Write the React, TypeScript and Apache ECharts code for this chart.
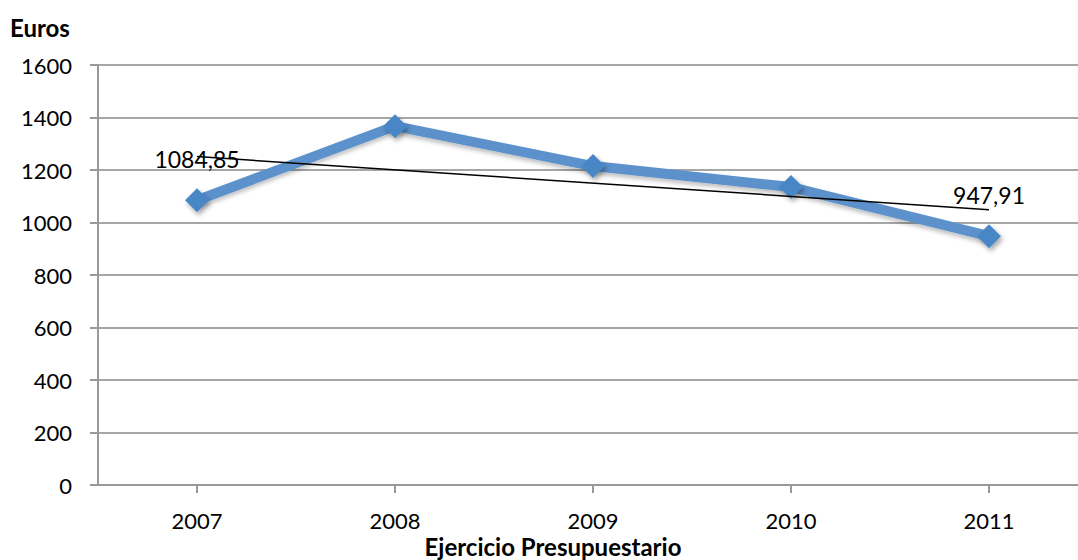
import React, { useEffect, useRef } from "react";
import * as echarts from "echarts";

// Annual amounts per budget year
const years = ["2007", "2008", "2009", "2010", "2011"];
const euros = [1084.85, 1367, 1215, 1135, 947.91];
// Linear trend endpoints (first and last year)
const trendValues = [1251, 1049];
// Years whose value is labelled
const labelledYears = ["2007", "2011"];

const FONT = "Lato, 'Open Sans', sans-serif";

export default function App() {
  const ref = useRef<HTMLDivElement>(null);

  useEffect(() => {
    if (!ref.current) return;
    const chart = echarts.init(ref.current, undefined, { renderer: "svg" });

    const mainData = euros.map((v, i) => {
      const show = labelledYears.includes(years[i]);
      return {
        value: v,
        label: {
          show,
          position: "top",
          distance: 18,
          formatter: () => v.toFixed(2).replace(".", ","),
          color: "#000",
          fontSize: 23,
          fontFamily: FONT,
        },
      };
    });

    chart.setOption({
      animation: false,
      backgroundColor: "#fff",
      textStyle: { fontFamily: FONT },
      grid: {
        left: 98,
        right: -10,
        top: 65,
        bottom: 75,
        containLabel: false,
        outerBoundsMode: "none",
      },
      title: [
        {
          text: "Euros",
          left: 5,
          top: 10,
          textStyle: { fontSize: 24, fontWeight: "bold", color: "#000", fontFamily: FONT },
        },
      ],
      graphic: [
        {
          type: "text",
          x: 553,
          y: 534,
          style: {
            text: "Ejercicio Presupuestario",
            fontSize: 24,
            fontWeight: "bold",
            fill: "#000",
            fontFamily: FONT,
            align: "center",
            verticalAlign: "top",
          },
        },
      ],
      xAxis: {
        type: "category",
        data: years,
        boundaryGap: true,
        axisLine: { lineStyle: { color: "#999", width: 2 } },
        axisTick: { show: true, alignWithLabel: true, length: 8, lineStyle: { color: "#999", width: 2 } },
        axisLabel: { fontSize: 22, color: "#000", margin: 24, fontFamily: FONT },
      },
      yAxis: {
        type: "value",
        min: 0,
        max: 1600,
        interval: 200,
        axisLine: { show: true, lineStyle: { color: "#999", width: 2 } },
        axisTick: { show: true, length: 8, inside: false, lineStyle: { color: "#999", width: 2 } },
        axisLabel: {
          fontSize: 22,
          color: "#000",
          margin: 26,
          fontFamily: FONT,
          formatter: (v: number) => String(v),
        },
        splitLine: { lineStyle: { color: "#a6a6a6", width: 2 } },
      },
      series: [
        {
          type: "line",
          data: mainData,
          symbol: "diamond",
          symbolSize: 24,
          itemStyle: {
            color: "#4a86c6",
            shadowColor: "rgba(0,0,0,0.35)",
            shadowBlur: 5,
            shadowOffsetX: 2,
            shadowOffsetY: 3,
          },
          lineStyle: {
            color: "#5b91cc",
            width: 10,
            shadowColor: "rgba(0,0,0,0.25)",
            shadowBlur: 4,
            shadowOffsetY: 3,
          },
          z: 2,
        },
        {
          type: "line",
          data: [
            [years[0], trendValues[0]],
            [years[years.length - 1], trendValues[1]],
          ],
          symbol: "none",
          lineStyle: { color: "#000", width: 1.5 },
          z: 3,
          silent: true,
        },
      ],
    });

    return () => chart.dispose();
  }, []);

  return (
    <div
      ref={ref}
      style={{ position: "absolute", left: 0, top: 0, width: 1078, height: 560 }}
    />
  );
}
